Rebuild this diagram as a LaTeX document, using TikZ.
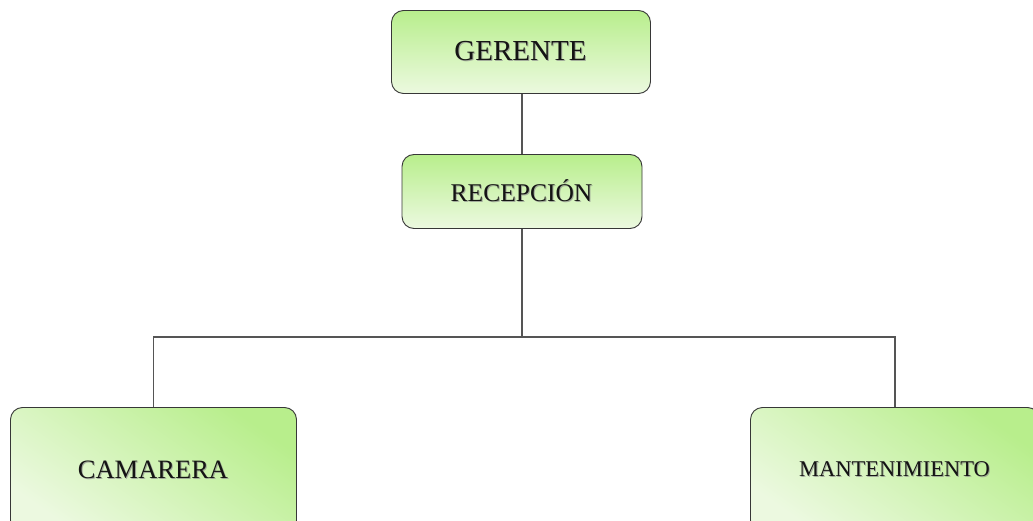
\documentclass[tikz,border=0pt]{standalone}
\usepackage{fontspec}
\setmainfont{Liberation Serif}
\definecolor{boxtop}{RGB}{184,238,140}
\definecolor{boxbot}{RGB}{236,249,224}
\definecolor{boxline}{RGB}{55,55,55}
\definecolor{linkline}{RGB}{85,85,85}
\newcommand{\shadowtext}[2]{%
  \tikz[baseline]{\node[inner sep=0,anchor=base,text=black!45,opacity=0.7] at (1pt,-1pt) {#2};
  \node[inner sep=0,anchor=base,text=black!92] at (0,0) {#2};}}
\begin{document}
\begin{tikzpicture}[x=1pt,y=1pt,
  orgbox/.style={draw=boxline, line width=0.9pt, rounded corners=12pt,
    top color=boxtop, bottom color=boxbot, inner sep=0pt},
  diagbox/.style={orgbox, shading angle=-35},
  link/.style={draw=linkline, line width=1.1pt}]
\useasboundingbox (0,0) rectangle (1033,-521);
\fill[white] (0,0) rectangle (1033,-521);

\node[orgbox, minimum width=258pt, minimum height=82pt,
  font=\fontsize{29}{34}\selectfont] (ger) at (521,-52) {\shadowtext{}{GERENTE}};
\node[orgbox, minimum width=239pt, minimum height=73pt,
  font=\fontsize{25.5}{30}\selectfont] (rec) at (522,-191.5) {\shadowtext{}{RECEPCIÓN}};
\node[diagbox, minimum width=285pt, minimum height=124pt,
  font=\fontsize{26.5}{31}\selectfont] (cam) at (153.5,-470) {\shadowtext{}{CAMARERA}};
\node[diagbox, minimum width=288pt, minimum height=124pt,
  font=\fontsize{22.5}{27}\selectfont] (man) at (895,-470) {\shadowtext{}{MANTENIMIENTO}};

\coordinate (bus) at (522,-337);
\draw[link] (rec.north |- ger.south) -- (rec.north);
\draw[link] (rec.south) -- (bus);
\draw[link] (cam.north) |- (bus) -| (man.north);
\end{tikzpicture}
\end{document}
